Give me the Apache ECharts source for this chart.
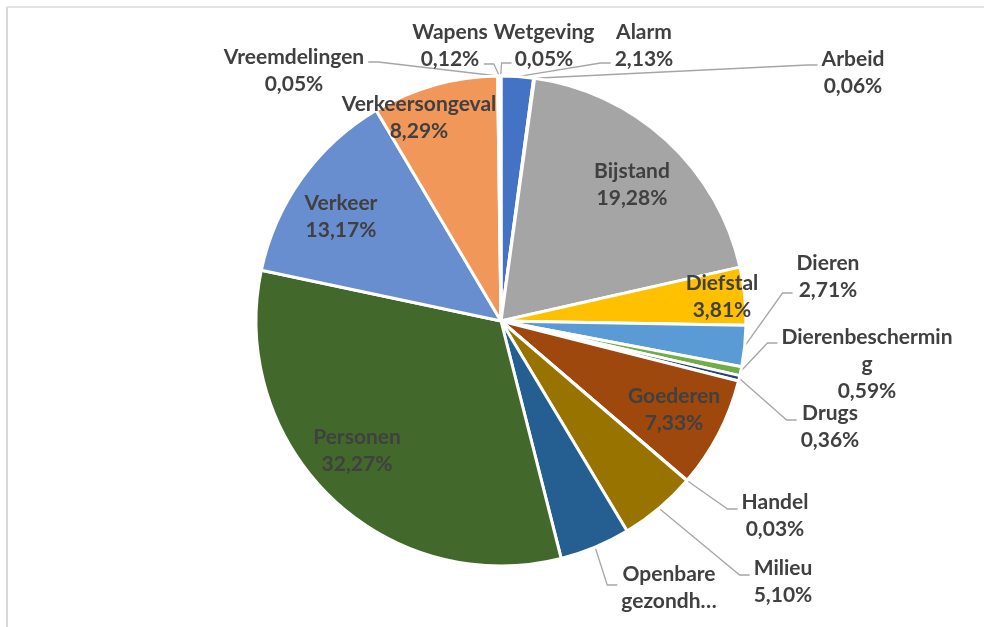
<!DOCTYPE html>
<html lang="nl">
<head>
    <meta charset="UTF-8">
    <title>Meldingen per categorie</title>
    <script src="https://cdn.jsdelivr.net/npm/echarts@6/dist/echarts.min.js"></script>
    <style>
        body { margin: 0; background: #fff; }
    </style>
</head>
<body>
    <div id="chart" style="width: 984px; height: 627px;"></div>
    <script>
        // categorieen en percentages (uit de grafiek)
        const categories = ['Alarm', 'Arbeid', 'Bijstand', 'Diefstal', 'Dieren', 'Dierenbescherming', 'Drugs',
            'Goederen', 'Handel', 'Milieu', 'Openbare gezondheid', 'Personen', 'Verkeer', 'Verkeersongeval',
            'Vreemdelingen', 'Wapens', 'Wetgeving'];
        const values = [2.13, 0.06, 19.28, 3.81, 2.71, 0.59, 0.36, 7.33, 0.03, 5.10, 4.65, 32.27, 13.17, 8.29,
            0.05, 0.12, 0.05];
        const colors = ['#4472C4', '#ED7D31', '#A5A5A5', '#FFC000', '#5B9BD5', '#70AD47', '#264478',
            '#9E480E', '#636363', '#997300', '#255E91', '#43682B', '#698ED0', '#F1975A',
            '#B7B7B7', '#FFCD33', '#7CAFDD'];

        // labels binnen de taart (geen lijntje)
        const insideLabels = {
            'Bijstand': [632, 185],
            'Diefstal': [722, 297],
            'Goederen': [674, 410],
            'Personen': [357, 451],
            'Verkeer': [341, 217],
            'Verkeersongeval': [419, 118]
        };
        // labels buiten: [x, y, kant (-1 links / 1 rechts), dy lijntje, inspringen]
        const outsideLabels = {
            'Alarm': [644, 46, -1, 17, 0],
            'Arbeid': [853, 73, -1, -8, 0],
            'Dieren': [828, 277, -1, 16, 0],
            'Dierenbescherming': [867, 364, -1, -21, 0],
            'Drugs': [830, 427, -1, -7, 0],
            'Handel': [775, 516, -1, -7, 0],
            'Milieu': [783, 582, -1, -7, 0],
            'Openbare gezondheid': [669, 588, -1, -3, 0],
            'Vreemdelingen': [294, 71, 1, -9, 0],
            'Wapens': [450, 46, 1, 18, 8],
            'Wetgeving': [544, 46, -1, 17, 22]
        };

        function labelText(name, value) {
            const pct = value.toFixed(2).replace('.', ',') + '%';
            if (name === 'Dierenbescherming') return 'Dierenbeschermin\ng\n' + pct;
            if (name === 'Openbare gezondheid') return 'Openbare\ngezondh…';
            return name + '\n' + pct;
        }

        const pieData = categories.map((name, i) => ({
            name: name,
            value: values[i],
            itemStyle: { color: colors[i] },
            labelLine: { show: !insideLabels[name] }
        }));

        const myChart = echarts.init(document.getElementById('chart'));
        const option = {
            animation: false,
            graphic: [
                { type: 'line', shape: { x1: 7, y1: 7, x2: 984, y2: 7 }, style: { stroke: '#d9d9d9', lineWidth: 1.5 } },
                { type: 'line', shape: { x1: 7, y1: 7, x2: 7, y2: 627 }, style: { stroke: '#d9d9d9', lineWidth: 2 } }
            ],
            series: [{
                type: 'pie',
                center: [501, 321],
                radius: 245,
                startAngle: 90,
                clockwise: true,
                avoidLabelOverlap: false,
                itemStyle: { borderColor: '#fff', borderWidth: 3 },
                label: {
                    show: true,
                    position: 'outside',
                    formatter: p => labelText(p.name, p.value),
                    fontFamily: 'Lato',
                    fontWeight: 'bold',
                    fontSize: 21,
                    lineHeight: 27,
                    color: '#404040'
                },
                labelLine: {
                    show: true,
                    lineStyle: { color: '#a6a6a6', width: 1.3 }
                },
                labelLayout: function (params) {
                    const name = categories[params.dataIndex];
                    if (insideLabels[name]) {
                        const pos = insideLabels[name];
                        return { x: pos[0], y: pos[1], align: 'center', verticalAlign: 'middle' };
                    }
                    const s = outsideLabels[name];
                    const w = params.labelRect.width;
                    const res = { x: s[0], y: s[1], align: 'center', verticalAlign: 'middle' };
                    if (params.labelLinePoints) {
                        const p0 = params.labelLinePoints[0];
                        const ex = s[0] + s[2] * (w / 2 - s[4] + 4);
                        const ey = s[1] + s[3];
                        const seg = Math.min(10, Math.abs(ex - p0[0]) - 1);
                        res.labelLinePoints = [p0, [ex + s[2] * seg, ey], [ex, ey]];
                    }
                    return res;
                },
                data: pieData
            }]
        };
        myChart.setOption(option);
    </script>
</body>
</html>
